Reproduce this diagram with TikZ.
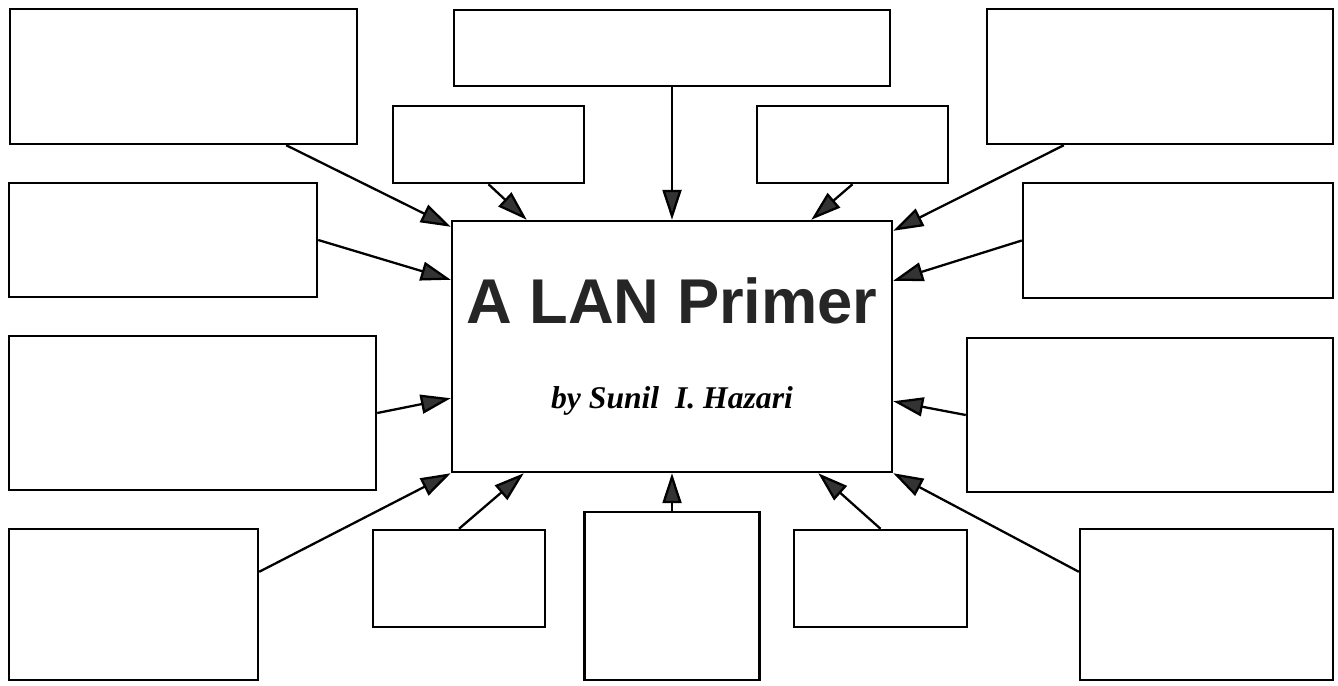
\documentclass[tikz,border=0pt]{standalone}
\usepackage{fontspec}
\setmainfont{Liberation Serif}
\newfontfamily\titlefont{Liberation Sans}
\usetikzlibrary{arrows.meta,positioning}
\tikzstyle{blankNode} = [rectangle, draw=black, line width=1.4pt, inner sep=0pt]
\tikzstyle{mainNode} = [blankNode, minimum width=8.8cm, minimum height=5.02cm, align=center]
\tikzstyle{arrowIn} = [line width=1.3pt, -{Triangle[length=6mm,width=3.8mm,fill=black!80]}, draw=black]

\begin{document}
\begin{tikzpicture}[node distance=2cm]
    \useasboundingbox (0,0) rectangle (26.76,-13.7);
    \node (centre) [mainNode] at (13.44,-6.93) {{\titlefont\fontsize{36}{36}\selectfont\bfseries\color{black!85}A LAN Primer}\\[12mm]{\fontsize{18}{18}\selectfont\bfseries\itshape by Sunil\ \ I. Hazari}};
    % top row
    \node (tl) [blankNode, left of=centre, xshift=-7.77cm, yshift=5.4cm, minimum width=6.94cm, minimum height=2.7cm] {};
    \node (tc) [blankNode, above of=centre, yshift=3.97cm, minimum width=8.72cm, minimum height=1.52cm] {};
    \node (tr) [blankNode, right of=centre, xshift=7.76cm, yshift=5.4cm, minimum width=6.92cm, minimum height=2.7cm] {};
    \node (stl) [blankNode, above of=centre, xshift=-3.67cm, yshift=2.04cm, minimum width=3.82cm, minimum height=1.54cm] {};
    \node (str) [blankNode, above of=centre, xshift=3.61cm, yshift=2.04cm, minimum width=3.82cm, minimum height=1.54cm] {};
    % sides
    \node (l2) [blankNode, left of=centre, xshift=-8.18cm, yshift=2.13cm, minimum width=6.16cm, minimum height=2.28cm] {};
    \node (r2) [blankNode, right of=centre, xshift=8.12cm, yshift=2.12cm, minimum width=6.2cm, minimum height=2.3cm] {};
    \node (l3) [blankNode, left of=centre, xshift=-7.59cm, yshift=-1.33cm, minimum width=7.34cm, minimum height=3.08cm] {};
    \node (r3) [blankNode, right of=centre, xshift=7.56cm, yshift=-1.37cm, minimum width=7.32cm, minimum height=3.08cm] {};
    % bottom row
    \node (bl) [blankNode, left of=centre, xshift=-8.77cm, yshift=-5.16cm, minimum width=4.98cm, minimum height=3.02cm] {};
    \node (sbl) [blankNode, below of=centre, xshift=-4.26cm, yshift=-2.64cm, minimum width=3.44cm, minimum height=1.94cm] {};
    \node (bc) [blankNode, below of=centre, yshift=-2.99cm, minimum width=3.5cm, minimum height=3.36cm] {};
    \node (sbr) [blankNode, below of=centre, xshift=4.17cm, yshift=-2.64cm, minimum width=3.46cm, minimum height=1.94cm] {};
    \node (br) [blankNode, right of=centre, xshift=8.69cm, yshift=-5.16cm, minimum width=5.06cm, minimum height=3.02cm] {};

    \draw [arrowIn] ([xshift=-1.44cm]tl.south east) -- ([yshift=-0.14cm]centre.north west);
    \draw [arrowIn] (stl.south) -- ([xshift=1.52cm]centre.north west);
    \draw [arrowIn] (tc.south) -- (tc.south |- centre.north);
    \draw [arrowIn] (str.south) -- ([xshift=-1.64cm]centre.north east);
    \draw [arrowIn] ([xshift=1.56cm]tr.south west) -- ([yshift=-0.22cm]centre.north east);
    \draw [arrowIn] (l2.east) -- ([yshift=-1.2cm]centre.north west);
    \draw [arrowIn] (r2.west) -- ([yshift=-1.22cm]centre.north east);
    \draw [arrowIn] (l3.east) -- ([yshift=1.5cm]centre.south west);
    \draw [arrowIn] (r3.west) -- ([yshift=1.44cm]centre.south east);
    \draw [arrowIn] ([yshift=-0.88cm]bl.north east) -- (centre.south west);
    \draw [arrowIn] (sbl.north) -- ([xshift=1.46cm]centre.south west);
    \draw [arrowIn] (bc.north) -- (bc.north |- centre.south);
    \draw [arrowIn] (sbr.north) -- ([xshift=-1.5cm]centre.south east);
    \draw [arrowIn] ([yshift=-0.88cm]br.north west) -- (centre.south east);
\end{tikzpicture}
\end{document}
